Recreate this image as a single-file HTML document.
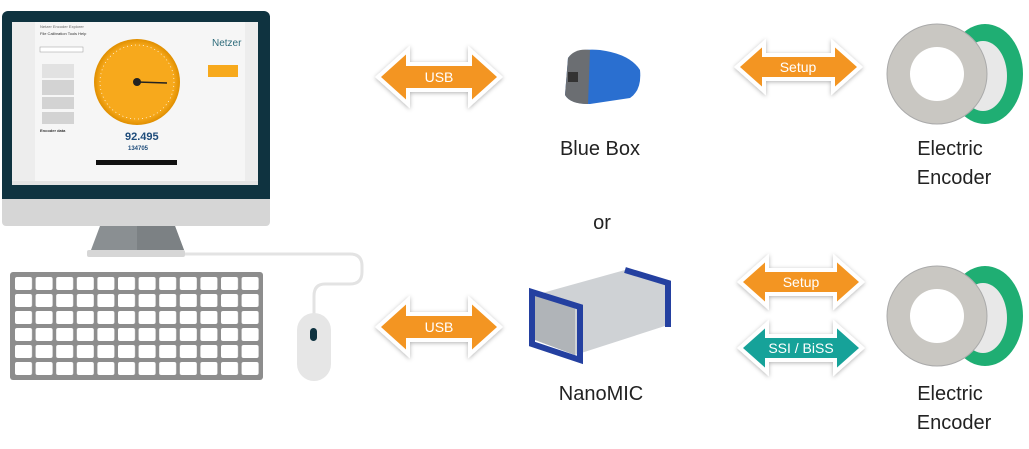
<!DOCTYPE html><html><head><meta charset="utf-8"><style>body{margin:0;background:#fff}svg{display:block}text{font-family:"Liberation Sans",sans-serif}</style></head><body>
<svg width="1029" height="449" viewBox="0 0 1029 449" xmlns="http://www.w3.org/2000/svg">
<defs>
<filter id="sh" x="-20%" y="-30%" width="140%" height="160%"><feDropShadow dx="0" dy="1" stdDeviation="2" flood-color="#000" flood-opacity="0.3"/></filter>
<pattern id="keys" x="15" y="277" width="20.6" height="17" patternUnits="userSpaceOnUse"><rect x="0" y="0" width="17" height="13" rx="2" fill="#fff"/></pattern>
<radialGradient id="gauge"><stop offset="0.85" stop-color="#f7a91c"/><stop offset="1" stop-color="#e08f00"/></radialGradient>
</defs>
<rect x="2" y="11" width="268" height="190" rx="6" fill="#0f3340"/>
<rect x="2" y="195" width="268" height="31" rx="4" fill="#d6d6d6"/>
<rect x="2" y="195" width="268" height="4" fill="#0f3340"/>
<rect x="12" y="22" width="246" height="163" fill="#ededed"/>
<rect x="35" y="22" width="210" height="162" fill="#f6f6f6"/>
<text x="40" y="28" font-size="4" fill="#666">Netzer Encoder Explorer</text>
<text x="40" y="35" font-size="4" fill="#333">File  Calibration  Tools  Help</text>
<rect x="40" y="47" width="43" height="5" fill="#fff" stroke="#999" stroke-width="0.5"/>
<rect x="42" y="64" width="32" height="14" fill="#e2e2e2"/><rect x="42" y="80" width="32" height="15" fill="#d3d3d3"/><rect x="42" y="97" width="32" height="12" fill="#d3d3d3"/><rect x="42" y="112" width="32" height="12" fill="#d3d3d3"/>
<circle cx="137" cy="82" r="43" fill="url(#gauge)"/>
<circle cx="137" cy="82" r="37" fill="none" stroke="#fff" stroke-width="0.7" stroke-dasharray="1 3"/>
<line x1="137" y1="82" x2="167" y2="83" stroke="#222" stroke-width="1.5"/><circle cx="137" cy="82" r="4" fill="#222"/>
<text x="212" y="46" font-size="10" fill="#2d6b7a">Netzer</text>
<rect x="208" y="65" width="30" height="12" fill="#f7a91c"/>
<text x="125" y="140" font-size="11" font-weight="bold" fill="#1d4b7a">92.495</text>
<text x="128" y="150" font-size="6" font-weight="bold" fill="#1d4b7a">134705</text>
<text x="40" y="132" font-size="4" font-weight="bold" fill="#333">Encoder data</text>
<rect x="96" y="160" width="81" height="5" fill="#111"/>
<rect x="12" y="181" width="246" height="4" fill="#e4e4e4"/>
<path d="M100 226 L175 226 L184 250 L91 250 Z" fill="#8a8f92"/>
<path d="M137 226 L175 226 L184 250 L137 250 Z" fill="#7c8184"/>
<rect x="87" y="250" width="98" height="7" rx="2" fill="#d6d6d6"/>
<path d="M185 254 L350 254 Q362 254 362 266 L362 272 Q362 284 350 284 L325 284 Q314 284 314 296 L314 318" fill="none" stroke="#e3e3e3" stroke-width="3"/>
<rect x="297" y="313" width="34" height="68" rx="17" fill="#e6e6e6"/>
<rect x="310" y="328" width="7" height="13" rx="3.5" fill="#0f3340"/>
<rect x="10" y="272" width="253" height="108" rx="3" fill="#8d8d8d"/>
<rect x="13" y="275" width="247" height="102" fill="url(#keys)"/>
<g filter="url(#sh)" stroke="#fff" stroke-width="4" stroke-linejoin="miter">
<path d="M378 77 L408 50 L408 64 L470 64 L470 50 L500 77 L470 104 L470 90 L408 90 L408 104 Z" fill="#f39521"/>
<path d="M378 327 L408 300 L408 314 L470 314 L470 300 L500 327 L470 354 L470 340 L408 340 L408 354 Z" fill="#f39521"/>
<path d="M737 67 L764 43 L764 55 L833 55 L833 43 L860 67 L833 91 L833 79 L764 79 L764 91 Z" fill="#f39521"/>
<path d="M740 282 L767 258 L767 270 L835 270 L835 258 L862 282 L835 306 L835 294 L767 294 L767 306 Z" fill="#f39521"/>
<path d="M740 348 L767 324 L767 336 L835 336 L835 324 L862 348 L835 372 L835 360 L767 360 L767 372 Z" fill="#16a299"/>
</g>
<g fill="#fff" font-size="14" text-anchor="middle">
<text x="439" y="82">USB</text><text x="439" y="332">USB</text>
<text x="798" y="72">Setup</text><text x="801" y="287">Setup</text><text x="801" y="353">SSI / BiSS</text>
</g>
<path d="M568 58 Q575 48 600 50 Q630 54 640 70 Q642 90 630 98 L590 104 Q570 104 565 95 Z" fill="#2a6fd0"/>
<path d="M568 58 Q575 48 590 50 L588 104 Q570 104 565 95 Z" fill="#6b6e72"/>
<rect x="568" y="72" width="10" height="10" fill="#333"/>
<path d="M535 295 L625 270 L665 280 L668 325 L575 355 L535 340 Z" fill="#cfd2d5"/>
<path d="M535 295 L575 308 L575 355 L535 340 Z" fill="#b0b4b8"/>
<path d="M532 292 L580 307 L580 360 L532 344 Z" fill="none" stroke="#2440a0" stroke-width="6"/>
<path d="M625 270 L668 283 L668 327" fill="none" stroke="#2440a0" stroke-width="6"/>
<g id="enc">
<ellipse cx="985" cy="74" rx="38" ry="50" fill="#1fae73"/>
<ellipse cx="983" cy="76" rx="24" ry="35" fill="#e8e8e8"/>
<circle cx="937" cy="74" r="50" fill="#c9c7c2" stroke="#aaa"/>
<circle cx="937" cy="74" r="27" fill="#fff"/>
</g>
<use href="#enc" y="242"/>
<g fill="#222" font-size="20" text-anchor="middle">
<text x="600" y="155">Blue Box</text>
<text x="602" y="229">or</text>
<text x="601" y="400">NanoMIC</text>
<text x="950" y="155">Electric</text><text x="954" y="184">Encoder</text>
<text x="950" y="400">Electric</text><text x="954" y="429">Encoder</text>
</g>
</svg>
</body></html>
